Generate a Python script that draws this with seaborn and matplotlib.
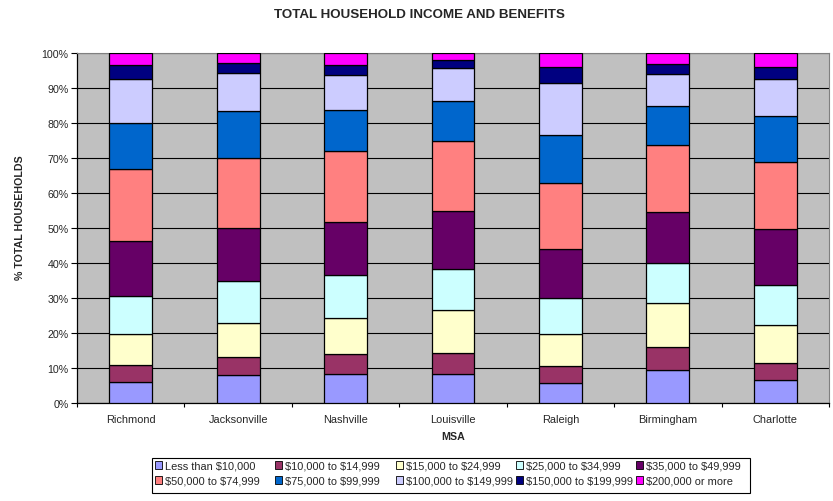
import matplotlib
matplotlib.use("Agg")
import matplotlib.pyplot as plt
import seaborn as sns
import numpy as np
from matplotlib.patches import Patch, Rectangle
from matplotlib.ticker import PercentFormatter, FixedLocator

msa = ["Richmond", "Jacksonville", "Nashville", "Louisville", "Raleigh", "Birmingham", "Charlotte"]

brackets = ["Less than $10,000", "$10,000 to $14,999", "$15,000 to $24,999", "$25,000 to $34,999",
            "$35,000 to $49,999", "$50,000 to $74,999", "$75,000 to $99,999", "$100,000 to $149,999",
            "$150,000 to $199,999", "$200,000 or more"]

# percent of households by bracket, per MSA (order of msa)
less_10k   = [6.0, 8.1, 8.4, 8.4, 5.6, 9.3, 6.6]
k10_15     = [4.8, 5.0, 5.5, 6.0, 4.9, 6.7, 4.9]
k15_25     = [9.0, 9.9, 10.3, 12.2, 9.3, 12.5, 10.9]
k25_35     = [10.9, 11.8, 12.4, 11.8, 10.3, 11.6, 11.4]
k35_50     = [15.5, 15.3, 15.2, 16.5, 14.0, 14.6, 15.9]
k50_75     = [20.7, 19.9, 20.3, 19.9, 18.9, 19.0, 19.1]
k75_100    = [13.0, 13.4, 11.5, 11.4, 13.7, 11.1, 13.1]
k100_150   = [12.6, 10.9, 10.2, 9.5, 14.6, 9.3, 10.7]
k150_200   = [4.2, 2.9, 2.9, 2.3, 4.7, 2.9, 3.4]
k200_plus  = [3.3, 2.8, 3.3, 2.0, 4.0, 3.0, 4.0]

series = [less_10k, k10_15, k15_25, k25_35, k35_50, k50_75, k75_100, k100_150, k150_200, k200_plus]
colors = ["#9999FF", "#993366", "#FFFFCC", "#CCFFFF", "#660066", "#FF8080", "#0066CC",
          "#CCCCFF", "#000080", "#FF00FF"]

sns.set_style("white")
plt.rcParams["font.family"] = ["Liberation Sans", "DejaVu Sans"]
plt.rcParams["text.parse_math"] = False

W, H = 833, 502
fig = plt.figure(figsize=(W/100, H/100), dpi=100)
ax = fig.add_axes([77/W, 1-404/H, (829-77)/W, (404-54)/H])
ax.set_facecolor("#C0C0C0")

bottom = np.zeros(len(msa))
for vals, col in zip(series, colors):
    sns.barplot(x=msa, y=vals, bottom=bottom, color=col, width=0.4, edgecolor="black",
                linewidth=0.9, errorbar=None, ax=ax, saturation=1, zorder=3)
    bottom = bottom + np.array(vals)

ax.set_ylim(0, 100)
ax.set_xlim(-0.5, len(msa) - 0.5)
ax.yaxis.set_major_locator(FixedLocator(np.arange(0, 101, 10)))
ax.yaxis.set_major_formatter(PercentFormatter(100, decimals=0))
ax.grid(axis="y", color="black", linewidth=0.8, zorder=0)
ax.set_axisbelow(True)

ax.tick_params(axis="y", which="major", direction="out", length=4, width=0.8, color="black",
               labelsize=7.7, pad=2, left=True)
ax.tick_params(axis="x", which="major", length=0, labelsize=7.9, pad=8)
ax.set_xticks(np.arange(-0.5, len(msa) - 0.4, 1.0), minor=True)
ax.tick_params(axis="x", which="minor", direction="out", length=3, width=0.8, color="black", bottom=True)

for s in ["left", "bottom"]:
    ax.spines[s].set_color("black")
    ax.spines[s].set_linewidth(0.9)
for s in ["top", "right"]:
    ax.spines[s].set_color("#808080")
    ax.spines[s].set_linewidth(0.8)

ax.set_xlabel("MSA", fontsize=7.7, fontweight="bold", labelpad=5)
ax.set_ylabel("% TOTAL HOUSEHOLDS", fontsize=7.7, fontweight="bold")
ax.yaxis.label.set_verticalalignment("center")
ax.yaxis.set_label_coords(-(77 - 20) / 752, (404 - 218) / 350)
fig.text(419 / W, 1 - 15 / H, "TOTAL HOUSEHOLD INCOME AND BENEFITS", ha="center", va="center",
         fontsize=9.6, fontweight="bold")

# legend: uniform column pitch like Excel
handles = [Patch(facecolor=c, edgecolor="black", linewidth=0.6, label=b) for c, b in zip(colors, brackets)]
col_x = [155, 275, 396, 516, 636]
for j, x in enumerate(col_x):
    fig.legend([handles[j], handles[j + 5]], [brackets[j], brackets[j + 5]], loc="upper left",
               bbox_to_anchor=(x / W, 1 - 462 / H), frameon=False, fontsize=7.9,
               handlelength=0.65, handleheight=0.65, handletextpad=0.3,
               labelspacing=0.45, borderpad=0, borderaxespad=0)
fig.patches.append(Rectangle((152 / W, 1 - 494 / H), (750 - 152) / W, (494 - 459) / H,
                             transform=fig.transFigure, fill=False, edgecolor="black",
                             linewidth=0.8))

fig.savefig("out.png", dpi=100)
